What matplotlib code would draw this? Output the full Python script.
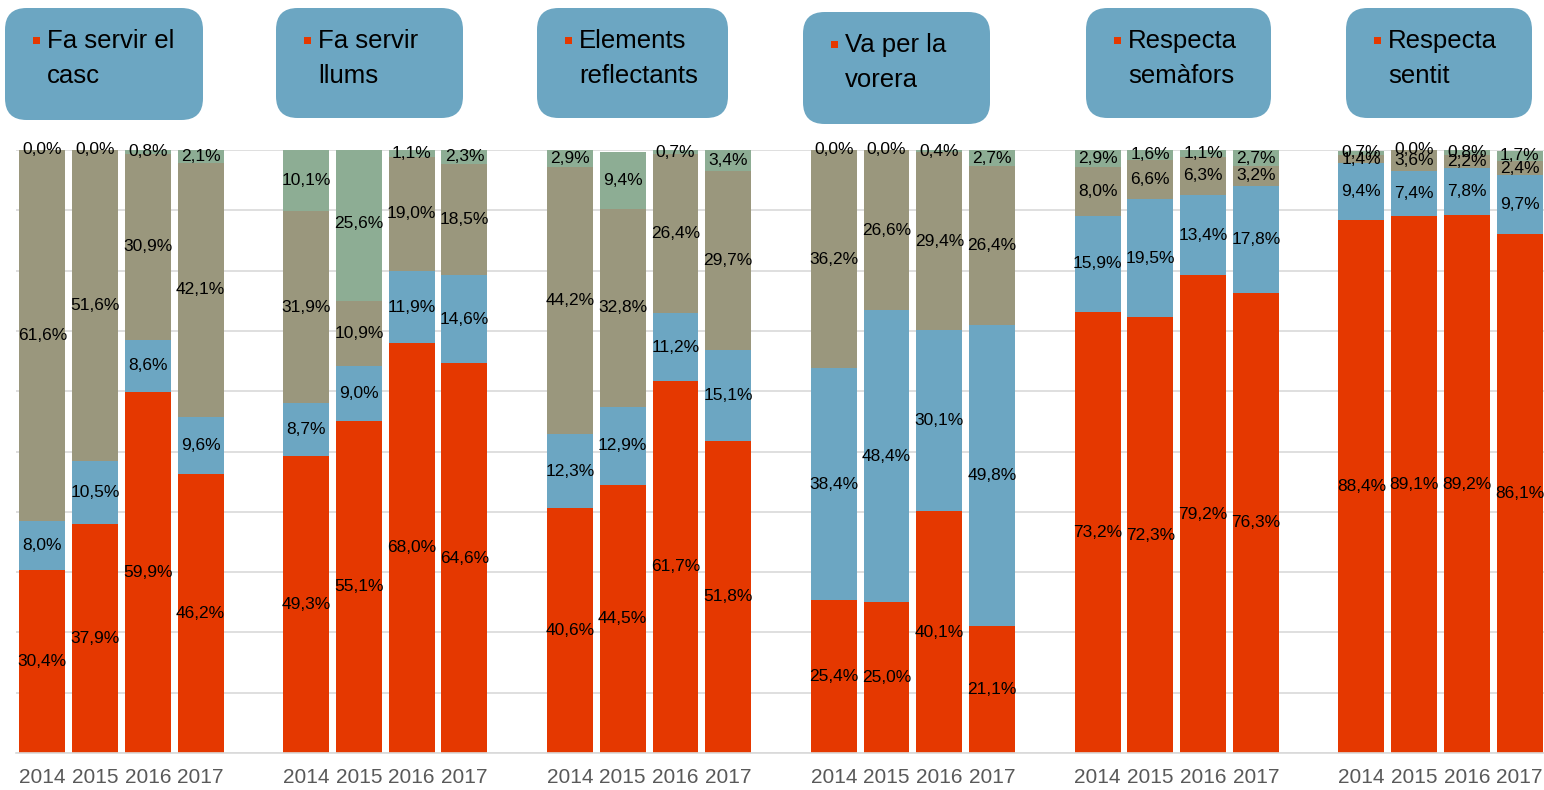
import matplotlib.pyplot as plt
from matplotlib.patches import FancyBboxPatch, Rectangle

plt.rcParams["font.family"] = ["Liberation Sans", "DejaVu Sans"]

years = ["2014", "2015", "2016", "2017"]
groups = [
    ["Fa servir el", "casc"],
    ["Fa servir", "llums"],
    ["Elements", "reflectants"],
    ["Va per la", "vorera"],
    ["Respecta", "semàfors"],
    ["Respecta", "sentit"],
]

# one list per segment, 4 years per group
red = [30.4, 37.9, 59.9, 46.2,
       49.3, 55.1, 68.0, 64.6,
       40.6, 44.5, 61.7, 51.8,
       25.4, 25.0, 40.1, 21.1,
       73.2, 72.3, 79.2, 76.3,
       88.4, 89.1, 89.2, 86.1]
blue = [8.0, 10.5, 8.6, 9.6,
        8.7, 9.0, 11.9, 14.6,
        12.3, 12.9, 11.2, 15.1,
        38.4, 48.4, 30.1, 49.8,
        15.9, 19.5, 13.4, 17.8,
        9.4, 7.4, 7.8, 9.7]
khaki = [61.6, 51.6, 30.9, 42.1,
         31.9, 10.9, 19.0, 18.5,
         44.2, 32.8, 26.4, 29.7,
         36.2, 26.6, 29.4, 26.4,
         8.0, 6.6, 6.3, 3.2,
         1.4, 3.6, 2.2, 2.4]
green = [0.0, 0.0, 0.8, 2.1,
         10.1, 25.6, 1.1, 2.3,
         2.9, 9.4, 0.7, 3.4,
         0.0, 0.0, 0.4, 2.7,
         2.9, 1.6, 1.1, 2.7,
         0.7, 0.0, 0.8, 1.7]

series = [red, blue, khaki, green]
colors = ["#E53800", "#6CA6C2", "#9A977D", "#8DAD94"]

W, H = 1544, 790
fig = plt.figure(figsize=(W / 100, H / 100), dpi=100)
ax = fig.add_axes([16 / W, 1 - 753 / H, (1546 - 16) / W, (753 - 150) / H])

xs = []
xlabels = []
for g in range(len(groups)):
    for j, y in enumerate(years):
        xs.append(g * 5 + j)
        xlabels.append(y)

bottoms = [0.0] * len(xs)
for vals, col in zip(series, colors):
    ax.bar(xs, vals, bottom=bottoms, width=0.87, color=col, zorder=2)
    for x, b, v in zip(xs, bottoms, vals):
        ax.text(x, min(b + v / 2, 100), f"{v:.1f}%".replace(".", ","),
                ha="center", va="center", fontsize=12.5, color="black", zorder=3)
    bottoms = [b + v for b, v in zip(bottoms, vals)]

ax.set_ylim(0, 100)
ax.set_xlim(-0.5, 28.5)
ax.set_yticks(range(0, 101, 10))
ax.yaxis.grid(True, color="#D9D9D9", linewidth=1.2, zorder=0)
ax.set_axisbelow(True)
ax.tick_params(axis="y", left=False, labelleft=False)
ax.set_xticks(xs)
ax.set_xticklabels(xlabels, fontsize=15, color="#595959")
ax.tick_params(axis="x", length=0, pad=11)
for s in ["left", "right", "top"]:
    ax.spines[s].set_visible(False)
ax.spines["bottom"].set_color("#D9D9D9")
ax.spines["bottom"].set_linewidth(1.2)

# header boxes (pixel positions: left, top, right, bottom)
boxes = [(5, 8, 203, 120), (276, 8, 463, 118), (537, 8, 728, 118),
         (803, 12, 990, 124), (1086, 8, 1271, 118), (1346, 8, 1532, 118)]
for (l, t, r, b), lines in zip(boxes, groups):
    fig.patches.append(FancyBboxPatch(
        (l / W, 1 - b / H), (r - l) / W, (b - t) / H,
        boxstyle="round,pad=0,rounding_size=0.014", mutation_aspect=W / H,
        transform=fig.transFigure, facecolor="#6CA6C2", edgecolor="none"))
    fig.patches.append(Rectangle(((l + 28) / W, 1 - (t + 36) / H), 7 / W, 7 / H,
                                 transform=fig.transFigure, facecolor="#E53800",
                                 edgecolor="none"))
    for k, line in enumerate(lines):
        fig.text((l + 42) / W, 1 - (t + 33 + 35 * k) / H, line,
                 fontsize=18.5, color="black", ha="left", va="center")

fig.savefig("out.png", dpi=100)
